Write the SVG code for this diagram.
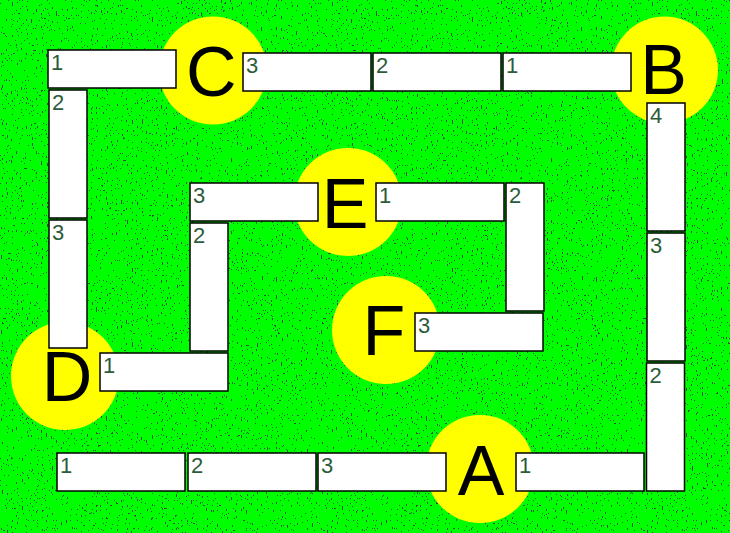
<svg xmlns="http://www.w3.org/2000/svg" width="730" height="533" viewBox="0 0 730 533">
<style>
.box{fill:#ffffff;stroke:#000000;stroke-width:1.5}
.num{font-family:"Liberation Sans",Arial,sans-serif;font-size:22px;fill:#2b5c3a}
.hub{fill:#ffff00}
.let{font-family:"Liberation Sans",Arial,sans-serif;font-size:70px;fill:#000000;text-anchor:middle}
</style>
<defs>
<filter id="speckle" x="0" y="0" width="730" height="533" filterUnits="userSpaceOnUse" color-interpolation-filters="sRGB">
<feTurbulence type="fractalNoise" baseFrequency="0.8 0.4" numOctaves="1" seed="7" result="t"/>
<feColorMatrix in="t" type="matrix" values="0 0 0 0 0  0 0 0 0 0  0 0 0 0 0  1 0 0 0 0" result="a"/>
<feComponentTransfer in="a" result="m">
<feFuncA type="discrete" tableValues="0 0 0 0 0 0 0 0 0 0 0 0 0 0 0 0 0 0 0 0 0 0 0 0 0 0 0 0 0 0 0 0 0 0 1 1 1 1 1 1 1 1 1 1 1 1 1 1 1 1"/>
</feComponentTransfer>
<feFlood flood-color="#34503f" result="f"/>
<feComposite in="f" in2="m" operator="in"/>
</filter>
</defs>
<rect x="0" y="0" width="730" height="533" fill="#00ff00"/>
<rect x="0" y="0" width="730" height="533" fill="#000" filter="url(#speckle)"/>
<g id="hub-C"><circle class="hub" cx="213" cy="70.5" r="54"/><text class="let" x="211.3" y="95.5">C</text></g>
<g id="hub-B"><circle class="hub" cx="664.5" cy="70" r="53.5"/><text class="let" x="663.7" y="94">B</text></g>
<g id="hub-E"><circle class="hub" cx="348" cy="202" r="54"/><text class="let" x="345" y="228">E</text></g>
<g id="hub-F"><circle class="hub" cx="386" cy="330" r="54"/><text class="let" x="383.8" y="355">F</text></g>
<g id="hub-D"><circle class="hub" cx="65" cy="376" r="54"/><text class="let" x="67" y="401">D</text></g>
<g id="hub-A"><circle class="hub" cx="480" cy="469" r="54"/><text class="let" x="481" y="495">A</text></g>
<g id="connectors"></g>
<g id="seg-C1"><rect class="box" x="48" y="50" width="128" height="38"/><text class="num" x="51" y="70">1</text></g>
<g id="seg-C2"><rect class="box" x="49" y="90" width="38" height="128"/><text class="num" x="52" y="110">2</text></g>
<g id="seg-C3"><rect class="box" x="49" y="220" width="38" height="128"/><text class="num" x="52" y="240">3</text></g>
<g id="seg-CB3"><rect class="box" x="243" y="53" width="128" height="38"/><text class="num" x="246" y="73">3</text></g>
<g id="seg-CB2"><rect class="box" x="373" y="53" width="128" height="38"/><text class="num" x="376" y="73">2</text></g>
<g id="seg-CB1"><rect class="box" x="503" y="53" width="128" height="38"/><text class="num" x="506" y="73">1</text></g>
<g id="seg-B4"><rect class="box" x="647" y="103" width="38" height="128"/><text class="num" x="650" y="123">4</text></g>
<g id="seg-B3"><rect class="box" x="647" y="233" width="38" height="128"/><text class="num" x="650" y="253">3</text></g>
<g id="seg-B2"><rect class="box" x="646.5" y="363" width="38" height="128"/><text class="num" x="649.5" y="383">2</text></g>
<g id="seg-E3"><rect class="box" x="190" y="183" width="128" height="38"/><text class="num" x="193" y="203">3</text></g>
<g id="seg-E2"><rect class="box" x="190" y="223" width="38" height="128"/><text class="num" x="193" y="243">2</text></g>
<g id="seg-E1"><rect class="box" x="376" y="183" width="128" height="38"/><text class="num" x="379" y="203">1</text></g>
<g id="seg-EF2"><rect class="box" x="506" y="183" width="38" height="128"/><text class="num" x="509" y="203">2</text></g>
<g id="seg-F3"><rect class="box" x="415" y="313" width="128" height="38"/><text class="num" x="418" y="333">3</text></g>
<g id="seg-D1"><rect class="box" x="100" y="353" width="128" height="38"/><text class="num" x="103" y="373">1</text></g>
<g id="seg-DA1"><rect class="box" x="57" y="453" width="128" height="38"/><text class="num" x="60" y="473">1</text></g>
<g id="seg-DA2"><rect class="box" x="188" y="453" width="128" height="38"/><text class="num" x="191" y="473">2</text></g>
<g id="seg-DA3"><rect class="box" x="318" y="453" width="128" height="38"/><text class="num" x="321" y="473">3</text></g>
<g id="seg-A1"><rect class="box" x="516" y="453" width="128" height="38"/><text class="num" x="519" y="473">1</text></g>
</svg>
